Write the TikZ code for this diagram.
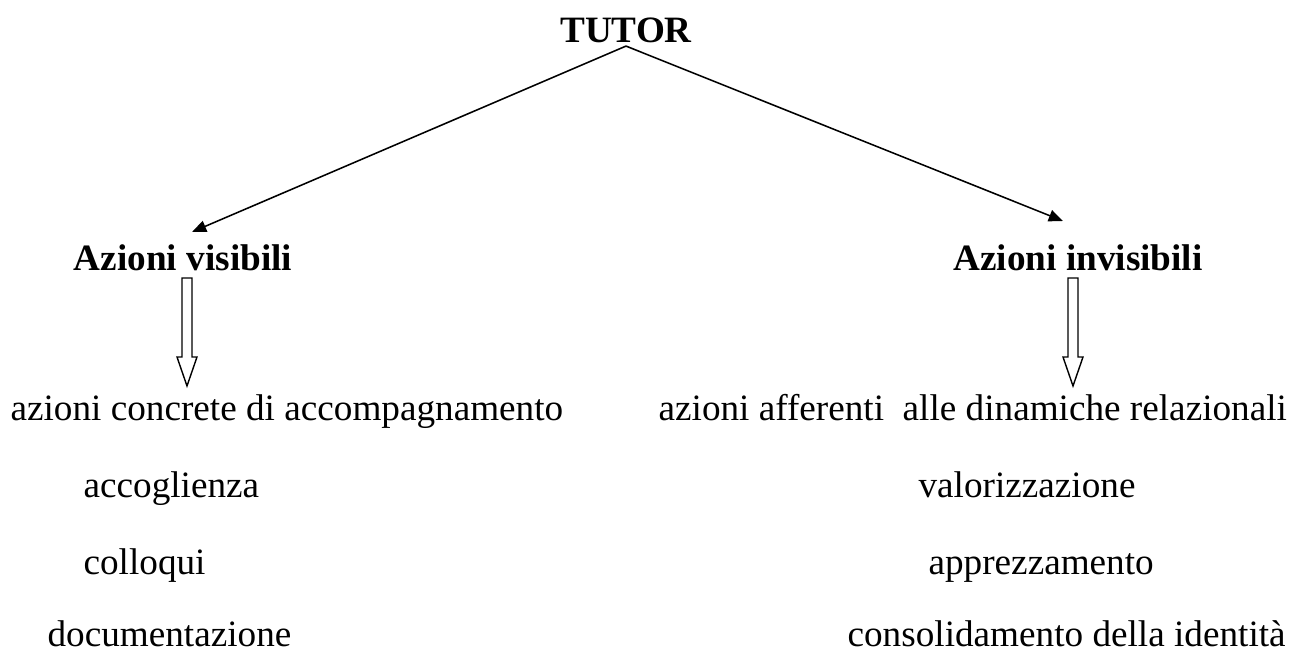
\documentclass[tikz,border=0pt]{standalone}
\usepackage{fontspec}
\setmainfont{Liberation Serif}
\usetikzlibrary{arrows.meta}

\begin{document}
\begin{tikzpicture}[
        x=0.3226pt, y=-0.3226pt,
        head/.style={font=\fontsize{12}{14}\selectfont\bfseries, inner sep=0pt, anchor=base},
        item/.style={font=\fontsize{12}{14}\selectfont, inner sep=0pt, anchor=base west},
        arrow/.style={-{Triangle[length=4.6pt, width=3.8pt]}, line width=0.5pt},
        hollow/.style={draw, line width=0.45pt, fill=white},
    ]
    \useasboundingbox (0,0) rectangle (1303,652);

    % ===== Top =====
    \node[head] (TUT) at (626,42) {TUTOR};

    % ===== Headings =====
    \node[head] (AV) at (183,270) {Azioni visibili};
    \node[head] (AI) at (1078,270) {Azioni invisibili};

    \coordinate (AVin) at (192,232);
    \coordinate (AIin) at (1063,221);
    \draw[arrow] ([yshift=-1pt]TUT.south) -- (AVin);
    \draw[arrow] ([yshift=-1pt]TUT.south) -- (AIin);

    % ===== Hollow arrows =====
    \coordinate (AVout) at (187,278);
    \coordinate (AIout) at (1073,278);
    \foreach \c in {AVout, AIout}
        \draw[hollow] (\c) ++(-5,0) -- ++(0,79) -- ++(-5,0) -- ++(10,29)
            -- ++(10,-29) -- ++(-5,0) -- ++(0,-79) -- cycle;

    % ===== Left column =====
    \node[item] (L0) at (10,420) {azioni concrete di accompagnamento};
    \node[item] (L1) at (83,497) {accoglienza};
    \node[item] (L2) at (83,574) {colloqui};
    \node[item] (L3) at (47,646) {documentazione};

    % ===== Right column =====
    \node[item] (R0) at (658,420) {azioni afferenti\ \ alle dinamiche relazionali};
    \node[item] (R1) at (918,497) {valorizzazione};
    \node[item] (R2) at (928,574) {apprezzamento};
    \node[item] (R3) at (847,646) {consolidamento della identità};

\end{tikzpicture}
\end{document}
